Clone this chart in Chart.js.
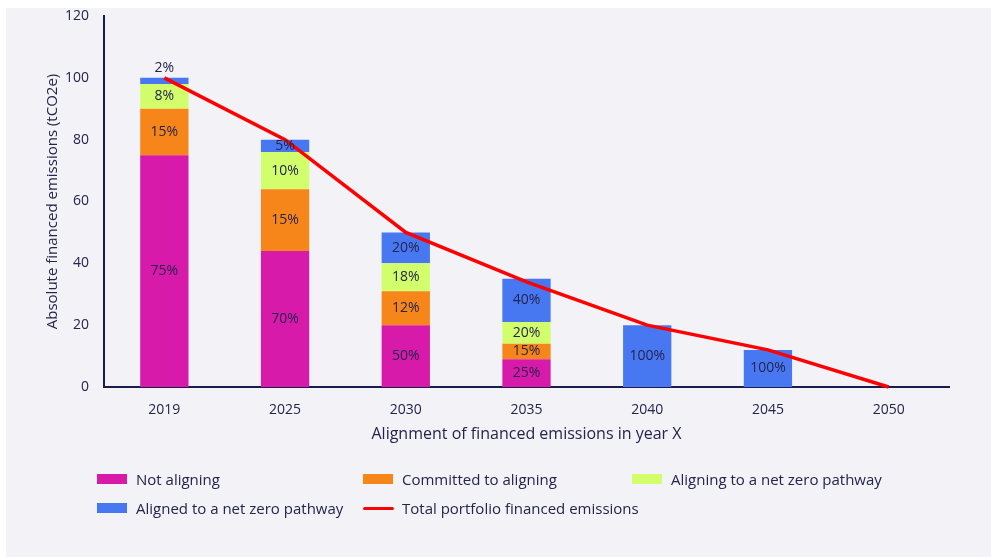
<!DOCTYPE html>
<html>
<head>
<meta charset="utf-8">
<script src="https://cdn.jsdelivr.net/npm/chart.js@4/dist/chart.umd.min.js"></script>
<style>
  html, body { margin: 0; padding: 0; background: #ffffff; }
  #wrap { position: relative; width: 991px; height: 557px; overflow: hidden; }
  #c { position: absolute; left: 0; top: 0; }
  .lg { position: absolute; display: flex; align-items: center; font: 15px "Open Sans", sans-serif; color: #24244e; white-space: nowrap; }
  .lg .sw { width: 30px; height: 10px; margin-right: 9px; flex: none; }
  .lg .ln { width: 31px; height: 3px; margin-right: 8px; flex: none; border-radius: 2px; }
</style>
</head>
<body>
<div id="wrap">
  <canvas id="c" width="991" height="557"></canvas>
</div>
<script>
// ---- data ----
const categories = ['2019', '2025', '2030', '2035', '2040', '2045', '2050'];
const notAligning = [75, 44, 20, 9, 0, 0, 0];
const committed = [15, 20, 11, 5, 0, 0, 0];
const aligningNetZero = [8, 12, 9, 7, 0, 0, 0];
const alignedNetZero = [2, 4, 10, 14, 20, 12, 0];
const totalEmissions = [100, 80, 50, 34, 20, 12, 0];

const notAligningLabels = ['75%', '70%', '50%', '25%', '', '', ''];
const committedLabels = ['15%', '15%', '12%', '15%', '', '', ''];
const aligningNetZeroLabels = ['8%', '10%', '18%', '20%', '', '', ''];
const alignedNetZeroLabels = ['2%', '5%', '20%', '40%', '100%', '100%', ''];

const yTicks = [0, 20, 40, 60, 80, 100, 120];
const seriesNames = ['Not aligning', 'Committed to aligning', 'Aligning to a net zero pathway', 'Aligned to a net zero pathway', 'Total portfolio financed emissions'];
const yTitle = 'Absolute financed emissions (tCO2e)';
const xTitle = 'Alignment of financed emissions in year X';

// ---- styles ----
const NAVY = '#24244e';
const FONT = '"Open Sans", sans-serif';
const colors = ['#d71aa9', '#f7861a', '#d3fe6b', '#4878f1', '#ff0000'];

const bgPlugin = {
  id: 'bg',
  beforeDraw(chart) {
    const ctx = chart.ctx;
    ctx.save();
    ctx.fillStyle = '#f2f2f7';
    ctx.fillRect(6, 8, 985, 549);
    ctx.restore();
  }
};

const labelPlugin = {
  id: 'segLabels',
  afterDatasetsDraw(chart) {
    const ctx = chart.ctx;
    ctx.save();
    ctx.font = '14px ' + FONT;
    ctx.fillStyle = NAVY;
    ctx.textAlign = 'center';
    ctx.textBaseline = 'middle';
    chart.data.datasets.forEach((ds, di) => {
      if (!ds.segLabels) return;
      const meta = chart.getDatasetMeta(di);
      meta.data.forEach((el, i) => {
        const txt = ds.segLabels[i];
        if (!txt) return;
        const h = Math.abs(el.base - el.y);
        let y = (el.y + el.base) / 2;
        if (h < 10) y = el.y - 10;
        ctx.fillText(txt, el.x, y);
      });
    });
    ctx.restore();
  }
};

const barCommon = { stack: 'bars', order: 2, borderWidth: 0, categoryPercentage: 1, barPercentage: 0.4 };

const chart = new Chart(document.getElementById('c'), {
  data: {
    labels: categories,
    datasets: [
      Object.assign({ type: 'bar', label: seriesNames[0], data: notAligning, backgroundColor: colors[0], segLabels: notAligningLabels }, barCommon),
      Object.assign({ type: 'bar', label: seriesNames[1], data: committed, backgroundColor: colors[1], segLabels: committedLabels }, barCommon),
      Object.assign({ type: 'bar', label: seriesNames[2], data: aligningNetZero, backgroundColor: colors[2], segLabels: aligningNetZeroLabels }, barCommon),
      Object.assign({ type: 'bar', label: seriesNames[3], data: alignedNetZero, backgroundColor: colors[3], segLabels: alignedNetZeroLabels }, barCommon),
      { type: 'line', label: seriesNames[4], data: totalEmissions, stack: 'total', order: 1, borderColor: colors[4], backgroundColor: colors[4], borderWidth: 3.5, pointRadius: 0, tension: 0, fill: false, clip: false }
    ]
  },
  options: {
    responsive: false,
    animation: false,
    layout: { padding: { left: 40, top: 16, right: 42, bottom: 113 } },
    plugins: { legend: { display: false }, tooltip: { enabled: false } },
    scales: {
      x: {
        stacked: true,
        grid: { display: false, drawTicks: false },
        border: { display: true, color: '#1c1c4c', width: 2 },
        ticks: { color: NAVY, font: { family: FONT, size: 14 }, padding: 15 },
        title: { display: true, text: xTitle, color: NAVY, font: { family: FONT, size: 16 }, padding: { top: 4, bottom: 0 } },
        afterFit(scale) { scale.height = 57; scale.paddingLeft = 0; scale.paddingRight = 0; }
      },
      y: {
        stacked: true,
        min: 0, max: 120,
        afterBuildTicks(scale) { scale.ticks = yTicks.map(v => ({ value: v })); },
        grid: { display: false, drawTicks: false },
        border: { display: true, color: '#1c1c4c', width: 2 },
        ticks: { color: NAVY, font: { family: FONT, size: 14 }, padding: 15 },
        title: { display: true, text: yTitle, color: NAVY, font: { family: FONT, size: 15 }, padding: { top: 4, bottom: 0 } },
        afterFit(scale) { scale.width = 64; scale.paddingTop = 0; scale.paddingBottom = 0; }
      }
    }
  },
  plugins: [bgPlugin, labelPlugin]
});

// ---- HTML legend built from the chart's datasets ----
const legendCols = [97, 363, 632];
const legendRows = [479, 508];
const wrap = document.getElementById('wrap');
chart.data.datasets.forEach((ds, i) => {
  const item = document.createElement('div');
  item.className = 'lg';
  item.style.left = legendCols[i % 3] + 'px';
  item.style.top = (legendRows[Math.floor(i / 3)] - 10) + 'px';
  item.style.height = '20px';
  const sw = document.createElement('span');
  sw.className = ds.type === 'line' ? 'ln' : 'sw';
  sw.style.background = ds.type === 'line' ? ds.borderColor : ds.backgroundColor;
  const tx = document.createElement('span');
  tx.textContent = ds.label;
  item.appendChild(sw);
  item.appendChild(tx);
  wrap.appendChild(item);
});
</script>
</body>
</html>
